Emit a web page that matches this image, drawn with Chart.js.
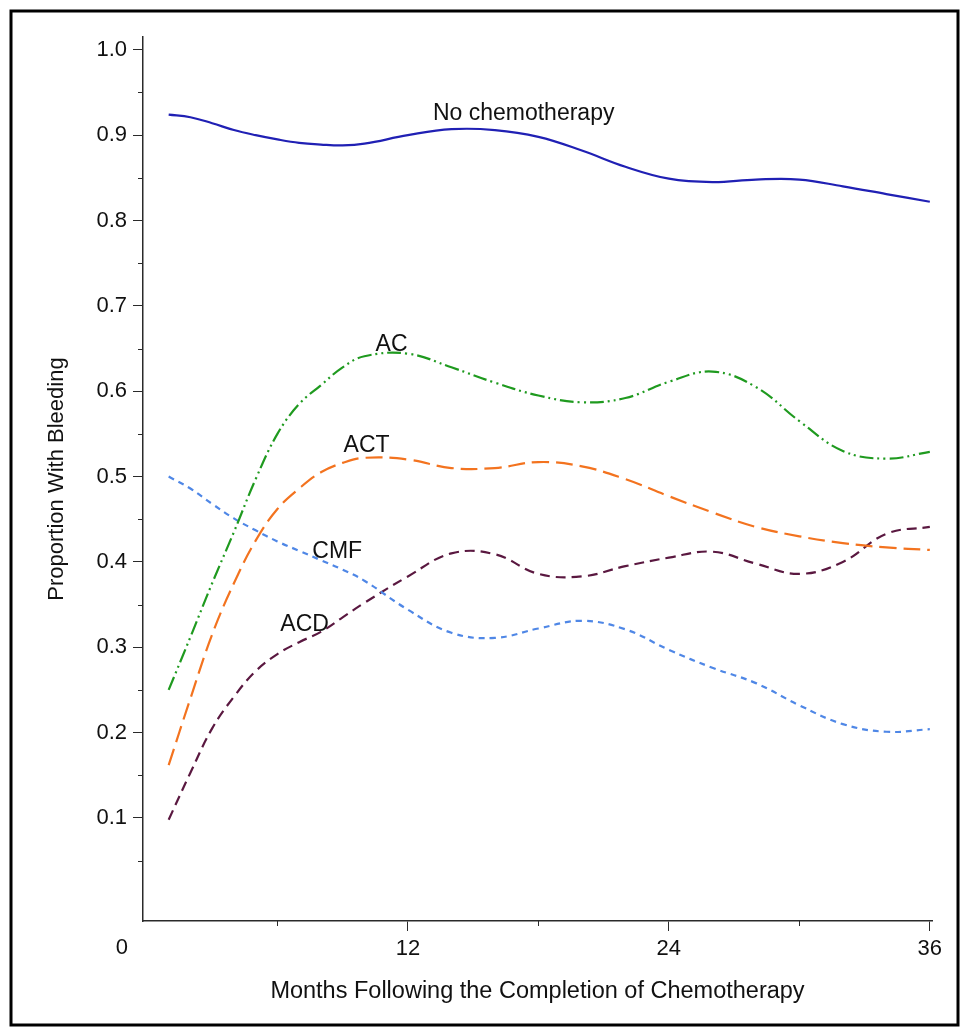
<!DOCTYPE html>
<html>
<head>
<meta charset="utf-8">
<title>Proportion With Bleeding</title>
<script src="https://cdn.jsdelivr.net/npm/chart.js@4.4.1/dist/chart.umd.min.js"></script>
<style>
  html, body { margin: 0; padding: 0; background: #fff; }
  canvas { display: block; }
</style>
</head>
<body>
<canvas id="bleedChart" width="961" height="1029"></canvas>
<script>
// Months after chemo (x) and the smoothed proportions
const months  = [1, 2, 3, 4, 5, 6, 7, 8, 9, 10, 12, 14, 16, 18, 20, 22, 24, 26, 28, 30, 32, 34, 36];
const noChemo = [0.924, 0.921, 0.914, 0.906, 0.900, 0.895, 0.891, 0.889, 0.888, 0.890, 0.900, 0.907, 0.906, 0.898, 0.882, 0.863, 0.849, 0.845, 0.848, 0.848, 0.840, 0.831, 0.822];
const acVals  = [0.250, 0.312, 0.375, 0.435, 0.497, 0.550, 0.585, 0.607, 0.628, 0.641, 0.644, 0.628, 0.610, 0.595, 0.587, 0.592, 0.611, 0.623, 0.605, 0.565, 0.530, 0.521, 0.529];
const actVals = [0.162, 0.240, 0.315, 0.375, 0.425, 0.462, 0.486, 0.505, 0.516, 0.522, 0.520, 0.510, 0.510, 0.517, 0.512, 0.497, 0.477, 0.458, 0.441, 0.430, 0.422, 0.417, 0.414];
const cmfVals = [0.500, 0.486, 0.468, 0.451, 0.437, 0.424, 0.413, 0.402, 0.391, 0.378, 0.344, 0.317, 0.311, 0.322, 0.331, 0.321, 0.297, 0.276, 0.258, 0.232, 0.210, 0.201, 0.204];
const acdVals = [0.098, 0.153, 0.205, 0.242, 0.272, 0.292, 0.306, 0.318, 0.335, 0.352, 0.383, 0.410, 0.409, 0.386, 0.383, 0.395, 0.405, 0.412, 0.398, 0.386, 0.400, 0.433, 0.441];

const yTicks = [0.1, 0.2, 0.3, 0.4, 0.5, 0.6, 0.7, 0.8, 0.9, 1.0];
const yMinorTicks = [0.05, 0.15, 0.25, 0.35, 0.45, 0.55, 0.65, 0.75, 0.85, 0.95];
const xTicks = [12, 24, 36];
const xMinorTicks = [6, 18, 30];

// text labels sitting next to each curve (data units)
const curveLabels = [
    { text: 'No chemotherapy', x: 13.15, y: 0.925, align: 'left' },
    { text: 'AC',  x: 11.25, y: 0.655, align: 'center' },
    { text: 'ACT', x: 10.1,  y: 0.536, align: 'center' },
    { text: 'CMF', x: 8.75,  y: 0.412, align: 'center' },
    { text: 'ACD', x: 7.25,  y: 0.326, align: 'center' }
];

const FONT = '"Liberation Sans", Arial, Helvetica, sans-serif';
const AXIS_COLOR = '#2a2a2a';

function toPoints(vals) {
    return months.map((m, i) => ({ x: m, y: vals[i] }));
}

function series(label, vals, color, dash) {
    return {
        label: label,
        data: toPoints(vals),
        borderColor: color,
        borderWidth: 2.2,
        borderDash: dash,
        pointRadius: 0,
        fill: false,
        tension: 0.4
    };
}

const extrasPlugin = {
    id: 'extras',
    afterDraw(chart) {
        const ctx = chart.ctx;
        const xs = chart.scales.x;
        const ys = chart.scales.y;
        ctx.save();

        // outer frame
        ctx.strokeStyle = '#000';
        ctx.lineWidth = 3;
        ctx.strokeRect(11, 11, 947, 1014);

        // minor ticks
        ctx.strokeStyle = AXIS_COLOR;
        ctx.lineWidth = 1;
        yMinorTicks.forEach(v => {
            const py = Math.round(ys.getPixelForValue(v)) + 0.5;
            ctx.beginPath();
            ctx.moveTo(ys.right - 5, py);
            ctx.lineTo(ys.right, py);
            ctx.stroke();
        });
        xMinorTicks.forEach(v => {
            const px = Math.round(xs.getPixelForValue(v)) + 0.5;
            ctx.beginPath();
            ctx.moveTo(px, xs.top);
            ctx.lineTo(px, xs.top + 5);
            ctx.stroke();
        });

        // the lone "0" under the origin
        ctx.fillStyle = '#111';
        ctx.font = '22px ' + FONT;
        ctx.textAlign = 'center';
        ctx.textBaseline = 'middle';
        ctx.fillText('0', xs.getPixelForValue(0) - 25, 948);

        // curve labels
        ctx.font = '23px ' + FONT;
        curveLabels.forEach(l => {
            ctx.textAlign = l.align;
            ctx.fillText(l.text, xs.getPixelForValue(l.x), ys.getPixelForValue(l.y));
        });
        ctx.restore();
    }
};

Chart.defaults.font.family = FONT;
Chart.defaults.color = '#111';

const ctx = document.getElementById('bleedChart').getContext('2d');
const bleedChart = new Chart(ctx, {
    type: 'line',
    data: {
        datasets: [
            series('No chemotherapy', noChemo, '#2020b4', []),
            series('AC', acVals, '#1f9a1f', [14, 4, 2, 4, 2, 4]),
            series('ACT', actVals, '#f3731f', [17, 7]),
            series('CMF', cmfVals, '#4f87e6', [6, 5]),
            series('ACD', acdVals, '#5a1840', [10, 6])
        ]
    },
    options: {
        responsive: false,
        animation: false,
        layout: { padding: { left: 0, top: 37, right: 29, bottom: 0 } },
        plugins: { legend: { display: false }, tooltip: { enabled: false } },
        scales: {
            x: {
                type: 'linear',
                min: -0.18,
                max: 36.1,
                afterFit: s => { s.height = 108; },
                afterBuildTicks: s => { s.ticks = xTicks.map(v => ({ value: v })); },
                grid: { drawOnChartArea: false, tickLength: 10, color: AXIS_COLOR, tickWidth: 1 },
                border: { color: AXIS_COLOR, width: 1.5 },
                ticks: { font: { size: 22 }, color: '#111', padding: 5, maxRotation: 0 },
                title: {
                    display: true,
                    text: 'Months Following the Completion of Chemotherapy',
                    font: { size: 23.5 },
                    color: '#111',
                    padding: { top: 0, bottom: 23 }
                }
            },
            y: {
                min: -0.0207,
                max: 1.015,
                afterFit: s => { s.width = 143; },
                afterBuildTicks: s => { s.ticks = yTicks.map(v => ({ value: v })); },
                grid: { drawOnChartArea: false, tickLength: 10, color: AXIS_COLOR, tickWidth: 1 },
                border: { color: AXIS_COLOR, width: 1.5 },
                ticks: {
                    font: { size: 22 },
                    color: '#111',
                    padding: 6,
                    callback: v => v.toFixed(1)
                },
                title: {
                    display: true,
                    text: 'Proportion With Bleeding',
                    font: { size: 22 },
                    color: '#111',
                    padding: { top: 44, bottom: 0 }
                }
            }
        }
    },
    plugins: [extrasPlugin]
});
</script>
</body>
</html>
